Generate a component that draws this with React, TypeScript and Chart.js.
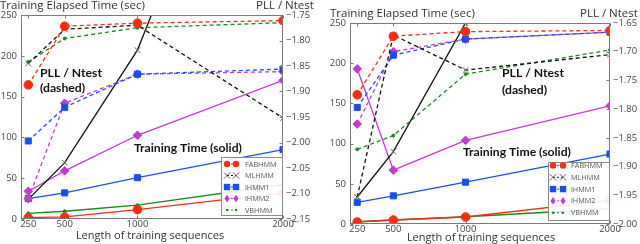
import React, { useEffect, useRef } from 'react';
import { Chart, registerables } from 'chart.js';

Chart.register(...registerables);

// ---------- data ----------
const lengths = [250, 500, 1000, 2000];
const seriesNames = ['FABHMM', 'MLHMM', 'iHMM1', 'iHMM2', 'VBHMM'];
const timeTicks = [0, 50, 100, 150, 200, 250];
const leftPllTicks = [-2.15, -2.1, -2.05, -2.0, -1.95, -1.9, -1.85, -1.8, -1.75];
const rightPllTicks = [-2.0, -1.95, -1.9, -1.85, -1.8, -1.75, -1.7, -1.65];

// left panel: training time (solid, sec)
const leftTimeFAB = [1.6, 2.5, 11.5, 32];
const leftTimeML = [24, 69, 207, 655];
const leftTimeI1 = [25, 32, 50.6, 85];
const leftTimeI2 = [34, 59, 102.6, 170];
const leftTimeVB = [7, 9.5, 17, 42];
// left panel: PLL / Ntest (dashed)
const leftPllFAB = [-1.887, -1.772, -1.766, -1.761];
const leftPllML = [-1.845, -1.778, -1.77, -1.952];
const leftPllI1 = [-1.997, -1.931, -1.866, -1.856];
const leftPllI2 = [-2.11, -1.923, -1.866, -1.861];
const leftPllVB = [-1.842, -1.796, -1.775, -1.765];

// right panel: training time (solid, sec)
const rightTimeFAB = [2.5, 5, 8.7, 29.5];
const rightTimeML = [33.6, 90, 250, 700];
const rightTimeI1 = [27, 35, 52, 87];
const rightTimeI2 = [193, 67, 104, 147];
const rightTimeVB = [3, 5, 9, 19];
// right panel: PLL / Ntest (dashed)
const rightPllFAB = [-1.775, -1.673, -1.665, -1.663];
const rightPllML = [-1.953, -1.671, -1.732, -1.705];
const rightPllI1 = [-1.797, -1.706, -1.678, -1.666];
const rightPllI2 = [-1.826, -1.7, -1.678, -1.666];
const rightPllVB = [-1.87, -1.846, -1.739, -1.697];

// ---------- styles ----------
const FONT = '"Open Sans", Lato, sans-serif';
const BOLD_FONT = 'Lato, "Open Sans", sans-serif';
const seriesStyle: Record<string, { color: string; point: string; r: number; pointColor?: string }> = {
  FABHMM: { color: '#ff2a10', point: 'circle', r: 4.3 },
  MLHMM: { color: '#111111', point: 'crossRot', r: 4, pointColor: '#666666' },
  iHMM1: { color: '#1a4cff', point: 'rect', r: 4.3 },
  iHMM2: { color: '#c23bd1', point: 'rectRot', r: 4.3 },
  VBHMM: { color: '#1a8a1a', point: 'circle', r: 1.5 },
};

function toPts(vals: number[]) {
  return lengths.map((x, i) => ({ x, y: vals[i] }));
}

function makeDataset(name: string, vals: number[], dashed: boolean) {
  const s = seriesStyle[name];
  const pc = s.pointColor || s.color;
  return {
    label: name + (dashed ? ' PLL' : ' time'),
    data: toPts(vals),
    yAxisID: dashed ? 'y2' : 'y',
    borderColor: s.color,
    backgroundColor: pc,
    borderWidth: 1.3,
    borderDash: dashed ? [4, 3] : [],
    pointStyle: s.point,
    pointRadius: s.r,
    pointBorderColor: pc,
    pointBackgroundColor: pc,
    pointBorderWidth: 1,
    tension: 0,
    fill: false,
  };
}

function drawMarker(ctx: CanvasRenderingContext2D, style: string, r: number, x: number, y: number, color: string) {
  ctx.save();
  ctx.fillStyle = color;
  ctx.strokeStyle = color;
  ctx.lineWidth = 1;
  ctx.setLineDash([]);
  ctx.beginPath();
  if (style === 'circle') {
    ctx.arc(x, y, r, 0, Math.PI * 2);
    ctx.fill();
  } else if (style === 'rect') {
    ctx.rect(x - r, y - r, 2 * r, 2 * r);
    ctx.fill();
  } else if (style === 'rectRot') {
    ctx.moveTo(x, y - r * 1.2);
    ctx.lineTo(x + r * 0.8, y);
    ctx.lineTo(x, y + r * 1.2);
    ctx.lineTo(x - r * 0.8, y);
    ctx.closePath();
    ctx.fill();
  } else if (style === 'crossRot') {
    ctx.moveTo(x - r, y - r);
    ctx.lineTo(x + r, y + r);
    ctx.moveTo(x - r, y + r);
    ctx.lineTo(x + r, y - r);
    ctx.stroke();
  }
  ctx.restore();
}

const decorPlugin = {
  id: 'decor',
  afterDatasetsDraw(chart: any, _args: any, opts: any) {
    const ctx: CanvasRenderingContext2D = chart.ctx;
    const ca = chart.chartArea;
    ctx.save();
    // frame
    ctx.strokeStyle = '#7a7a7a';
    ctx.lineWidth = 1;
    ctx.setLineDash([]);
    const L = Math.round(ca.left) + 0.5;
    const R = Math.round(ca.right) - 0.5;
    const T = Math.round(ca.top) + 0.5;
    const B = Math.round(ca.bottom) - 0.5;
    ctx.strokeRect(L, T, R - L, B - T);
    // inward ticks
    const tl = 3;
    ctx.beginPath();
    for (const t of chart.scales.y.ticks) {
      const py = Math.round(chart.scales.y.getPixelForValue(t.value)) + 0.5;
      ctx.moveTo(L, py); ctx.lineTo(L + tl, py);
    }
    for (const t of chart.scales.y2.ticks) {
      const py = Math.round(chart.scales.y2.getPixelForValue(t.value)) + 0.5;
      ctx.moveTo(R, py); ctx.lineTo(R - tl, py);
    }
    for (const t of chart.scales.x.ticks) {
      const px = Math.round(chart.scales.x.getPixelForValue(t.value)) + 0.5;
      ctx.moveTo(px, B); ctx.lineTo(px, B - tl);
      ctx.moveTo(px, T); ctx.lineTo(px, T + tl);
    }
    ctx.stroke();

    // legend
    const lg = opts.legend;
    ctx.fillStyle = 'rgba(255,255,255,0.9)';
    ctx.fillRect(lg.x, lg.y, lg.w, lg.h);
    ctx.strokeStyle = '#8a8a8a';
    ctx.strokeRect(lg.x + 0.5, lg.y + 0.5, lg.w - 1, lg.h - 1);
    seriesNames.forEach((name, i) => {
      const s = seriesStyle[name];
      const pc = s.pointColor || s.color;
      const yy = lg.y0 + i * lg.step;
      ctx.save();
      ctx.strokeStyle = s.color;
      ctx.lineWidth = 1;
      ctx.setLineDash([2, 2]);
      ctx.beginPath();
      ctx.moveTo(lg.m1, yy); ctx.lineTo(lg.m2, yy);
      ctx.stroke();
      ctx.restore();
      const rr = s.r > 2 ? 3.2 : 1.2;
      drawMarker(ctx, s.point, rr, lg.m1, yy, pc);
      drawMarker(ctx, s.point, rr, lg.m2, yy, pc);
      ctx.fillStyle = '#555';
      ctx.font = lg.font;
      ctx.textAlign = 'left';
      ctx.textBaseline = 'middle';
      ctx.fillText(name, lg.tx, yy + 0.5);
    });

    // texts
    for (const t of opts.texts) {
      ctx.fillStyle = t.color || '#222';
      ctx.font = t.font;
      ctx.textAlign = t.align || 'left';
      ctx.textBaseline = 'middle';
      ctx.fillText(t.text, t.x, t.y);
    }
    ctx.restore();
  },
};

interface PanelSpec {
  time: number[][];
  pll: number[][];
  pllTicks: number[];
  padTop: number;
  yW: number;
  y2W: number;
  xH: number;
  legend: any;
  texts: any[];
}

function buildConfig(p: PanelSpec): any {
  const datasets: any[] = [];
  seriesNames.forEach((n, i) => datasets.push(makeDataset(n, p.pll[i], true)));
  seriesNames.forEach((n, i) => datasets.push(makeDataset(n, p.time[i], false)));
  const tickFont = { family: FONT, size: 9.5 };
  const noGrid = { display: false, drawTicks: false, tickLength: 0 };
  return {
    type: 'line',
    data: { datasets },
    plugins: [decorPlugin],
    options: {
      animation: false,
      responsive: false,
      devicePixelRatio: 1,
      layout: { padding: { top: p.padTop, left: 0, right: 0, bottom: 0 } },
      plugins: {
        legend: { display: false },
        tooltip: { enabled: false },
        decor: { legend: p.legend, texts: p.texts },
      },
      scales: {
        x: {
          type: 'linear',
          min: 200,
          max: 2000,
          afterBuildTicks: (s: any) => { s.ticks = lengths.map((v) => ({ value: v })); },
          afterFit: (s: any) => { s.height = p.xH; },
          grid: noGrid,
          border: { display: false },
          ticks: { font: tickFont, color: '#444', padding: 0, maxRotation: 0, autoSkip: false, callback: (v: any) => String(v) },
        },
        y: {
          type: 'linear',
          position: 'left',
          min: 0,
          max: 250,
          afterBuildTicks: (s: any) => { s.ticks = timeTicks.map((v) => ({ value: v })); },
          afterFit: (s: any) => { s.width = p.yW; },
          grid: noGrid,
          border: { display: false },
          ticks: { font: tickFont, color: '#444', padding: 4, callback: (v: any) => String(v) },
        },
        y2: {
          type: 'linear',
          position: 'right',
          min: p.pllTicks[0],
          max: p.pllTicks[p.pllTicks.length - 1],
          afterBuildTicks: (s: any) => { s.ticks = p.pllTicks.map((v) => ({ value: v })); },
          afterFit: (s: any) => { s.width = p.y2W; },
          grid: noGrid,
          border: { display: false },
          ticks: { font: tickFont, color: '#444', padding: 3, callback: (v: any) => Number(v).toFixed(2).replace('-', '\u2212') },
        },
      },
    },
  };
}

const titleFont = `11.5px ${FONT}`;
const boldFont = `bold 12.2px ${BOLD_FONT}`;
const xTitleFont = `11px ${FONT}`;
const legendFont = `7.3px ${FONT}`;

const leftSpec: PanelSpec = {
  time: [leftTimeFAB, leftTimeML, leftTimeI1, leftTimeI2, leftTimeVB],
  pll: [leftPllFAB, leftPllML, leftPllI1, leftPllI2, leftPllVB],
  pllTicks: leftPllTicks,
  padTop: 15,
  yW: 21,
  y2W: 37,
  xH: 25,
  legend: { x: 221, y: 157, w: 62, h: 59, y0: 164, step: 11.5, m1: 227, m2: 236, tx: 245, font: legendFont },
  texts: [
    { text: 'Training Elapsed Time (sec)', x: 0, y: 6, font: titleFont, color: '#333' },
    { text: 'PLL / Ntest', x: 256, y: 6, font: titleFont, color: '#333' },
    { text: 'PLL / Ntest', x: 40, y: 73, font: boldFont, color: '#111' },
    { text: '(dashed)', x: 40, y: 88, font: boldFont, color: '#111' },
    { text: 'Training Time (solid)', x: 134, y: 148, font: boldFont, color: '#111' },
    { text: 'Length of training sequences', x: 150, y: 236, font: xTitleFont, color: '#333', align: 'center' },
  ],
};

const rightSpec: PanelSpec = {
  time: [rightTimeFAB, rightTimeML, rightTimeI1, rightTimeI2, rightTimeVB],
  pll: [rightPllFAB, rightPllML, rightPllI1, rightPllI2, rightPllVB],
  pllTicks: rightPllTicks,
  padTop: 23,
  yW: 30,
  y2W: 30,
  xH: 20,
  legend: { x: 228, y: 162, w: 62, h: 59, y0: 165.5, step: 11.8, m1: 233, m2: 243, tx: 251, font: legendFont },
  texts: [
    { text: 'Training Elapsed Time (sec)', x: 10, y: 14, font: titleFont, color: '#333' },
    { text: 'PLL / Ntest', x: 260, y: 14, font: titleFont, color: '#333' },
    { text: 'PLL / Ntest', x: 182, y: 73, font: boldFont, color: '#111' },
    { text: '(dashed)', x: 182, y: 90, font: boldFont, color: '#111' },
    { text: 'Training Time (solid)', x: 143, y: 152, font: boldFont, color: '#111' },
    { text: 'Length of training sequences', x: 161, y: 238, font: xTitleFont, color: '#333', align: 'center' },
  ],
};

function Panel({ spec, left }: { spec: PanelSpec; left: number }) {
  const ref = useRef<HTMLCanvasElement>(null);
  useEffect(() => {
    if (!ref.current) return;
    const chart = new Chart(ref.current, buildConfig(spec));
    return () => chart.destroy();
  }, [spec]);
  return (
    <canvas
      ref={ref}
      width={320}
      height={244}
      style={{ position: 'absolute', left, top: 0, width: 320, height: 244 }}
    />
  );
}

export default function App() {
  return (
    <div style={{ position: 'absolute', left: 0, top: 0, width: 640, height: 244, background: '#fff', overflow: 'hidden' }}>
      <Panel spec={leftSpec} left={0} />
      <Panel spec={rightSpec} left={320} />
    </div>
  );
}
